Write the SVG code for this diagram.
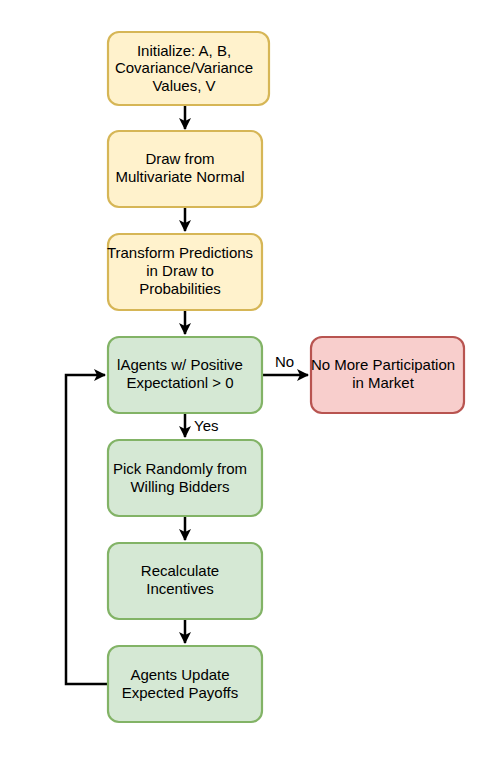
<svg xmlns="http://www.w3.org/2000/svg" width="500" height="766" viewBox="0 0 500 766">
<defs>
<style>
.y{fill:#fff2cc;stroke:#d6b656;stroke-width:2.2}
.g{fill:#d5e8d4;stroke:#82b366;stroke-width:2.2}
.r{fill:#f8cecc;stroke:#b85450;stroke-width:2.2}
text{font-family:"Liberation Sans",Arial,Helvetica,sans-serif;font-size:15px;fill:#000;text-anchor:middle}
.lbl{text-anchor:start}
.c{fill:none;stroke:#000;stroke-width:2.5}
</style>
<marker id="ah" markerUnits="userSpaceOnUse" viewBox="0 0 12 12" markerWidth="12" markerHeight="12" refX="11" refY="6" orient="auto">
<path d="M0,0 L12,6 L0,12 L3,6 z" fill="#000"/>
</marker>
</defs>
<rect width="500" height="766" fill="#fff"/>
<g id="connectors">
<path class="c" d="M185,105 V129" marker-end="url(#ah)"/>
<path class="c" d="M185,207 V231" marker-end="url(#ah)"/>
<path class="c" d="M185,310 V334" marker-end="url(#ah)"/>
<path class="c" d="M185,413 V437" marker-end="url(#ah)"/>
<path class="c" d="M185,516 V540" marker-end="url(#ah)"/>
<path class="c" d="M185,619 V643" marker-end="url(#ah)"/>
<path class="c" d="M262,375 H308" marker-end="url(#ah)"/>
<path class="c" d="M108,684 H66 V375 H105" marker-end="url(#ah)"/>
<text class="lbl" x="275" y="367">No</text>
<text class="lbl" x="194" y="431">Yes</text>
</g>
<g id="n1">
<rect class="y" x="108" y="32" width="161" height="73" rx="11"/>
<text x="184" y="55.5">Initialize: A, B,</text>
<text x="184" y="73">Covariance/Variance</text>
<text x="184" y="91">Values, V</text>
</g>
<g id="n2">
<rect class="y" x="108" y="131" width="154" height="76" rx="11"/>
<text x="180" y="163.7">Draw from</text>
<text x="180" y="182">Multivariate Normal</text>
</g>
<g id="n3">
<rect class="y" x="108" y="234" width="154" height="76" rx="11"/>
<text x="180" y="257.7">Transform Predictions</text>
<text x="180" y="276">in Draw to</text>
<text x="180" y="293.7">Probabilities</text>
</g>
<g id="n4">
<rect class="g" x="108" y="337" width="154" height="76" rx="11"/>
<text x="180" y="369.7">lAgents w/ Positive</text>
<text x="180" y="388">Expectationl &gt; 0</text>
</g>
<g id="n5">
<rect class="r" x="311" y="337" width="153" height="76" rx="11"/>
<text x="383" y="370.4">No More Participation</text>
<text x="383" y="388">in Market</text>
</g>
<g id="n6">
<rect class="g" x="108" y="440" width="154" height="76" rx="11"/>
<text x="180" y="473.7">Pick Randomly from</text>
<text x="180" y="492">Willing Bidders</text>
</g>
<g id="n7">
<rect class="g" x="108" y="543" width="154" height="76" rx="11"/>
<text x="180" y="576">Recalculate</text>
<text x="180" y="594">Incentives</text>
</g>
<g id="n8">
<rect class="g" x="108" y="646" width="154" height="76" rx="11"/>
<text x="180" y="680.4">Agents Update</text>
<text x="180" y="698">Expected Payoffs</text>
</g>
</svg>
